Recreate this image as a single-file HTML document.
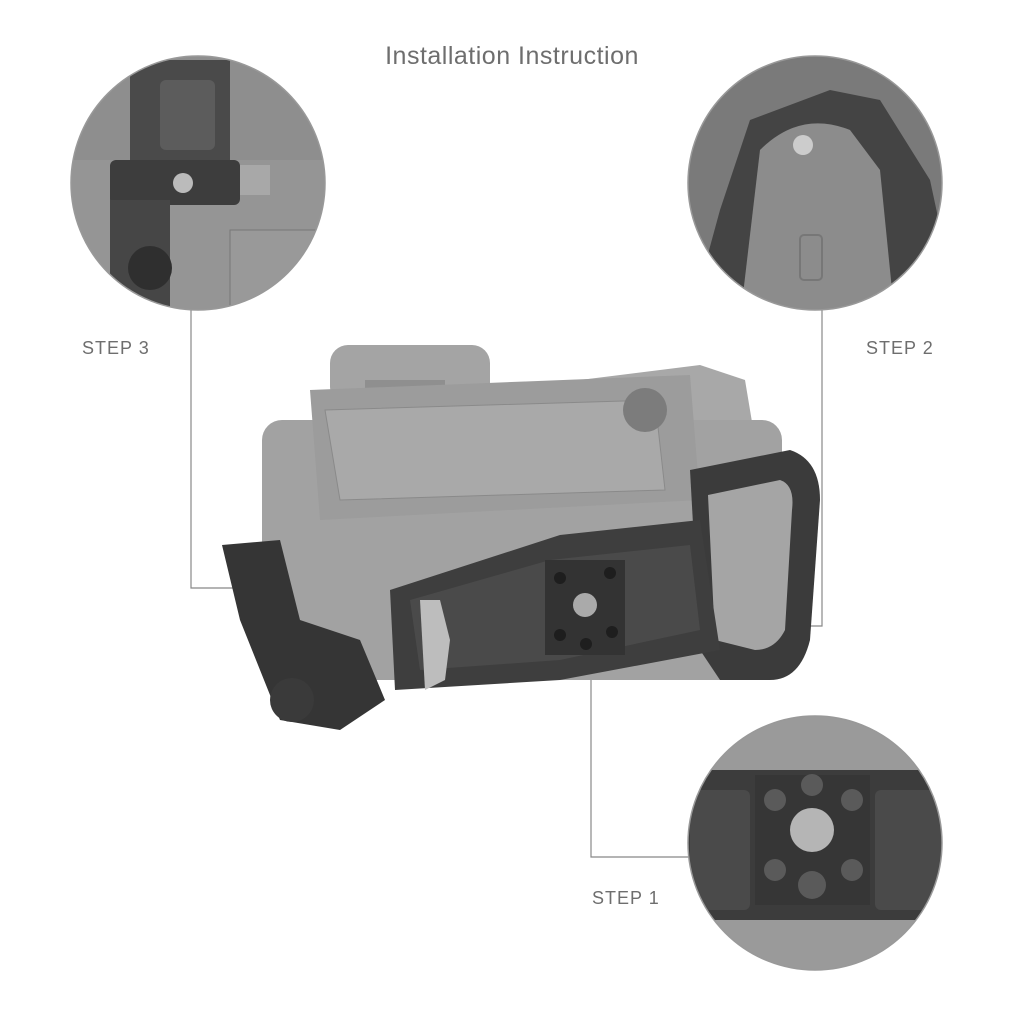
<!DOCTYPE html>
<html><head><style>
body{margin:0;width:1024px;height:1024px;background:#fff;position:relative;overflow:hidden;font-family:"Liberation Sans",sans-serif}
.t{position:absolute;color:#6e6e6e}
</style></head><body>
<div class="t" style="left:0;width:1024px;top:42px;text-align:center;font-size:25px;letter-spacing:0.5px">Installation Instruction</div>
<div class="t" style="left:82px;top:338px;font-size:18px;letter-spacing:1px">STEP 3</div>
<div class="t" style="left:866px;top:338px;font-size:18px;letter-spacing:1px">STEP 2</div>
<div class="t" style="left:592px;top:888px;font-size:18px;letter-spacing:1px">STEP 1</div>
<svg width="1024" height="1024" style="position:absolute;left:0;top:0">
<defs>
<clipPath id="c1"><circle cx="198" cy="183" r="127"/></clipPath>
<clipPath id="c2"><circle cx="815" cy="183" r="127"/></clipPath>
<clipPath id="c3"><circle cx="815" cy="843" r="127"/></clipPath>
</defs>
<g fill="none" stroke="#888" stroke-width="1.2">
<polyline points="191,310 191,588 242,588"/>
<polyline points="822,310 822,626 768,626"/>
<polyline points="591,640 591,857 690,857"/>
</g>
<!-- camera -->
<rect x="330" y="345" width="160" height="60" rx="18" fill="#a4a4a4"/>
<rect x="365" y="380" width="80" height="40" fill="#8f8f8f"/>
<path d="M540 385 L700 365 L745 380 L760 470 L300 490 Z" fill="#a8a8a8"/>
<rect x="262" y="420" width="520" height="260" rx="20" fill="#a2a2a2"/>
<path d="M310 390 L690 375 L700 500 L320 520 Z" fill="#9c9c9c"/>
<path d="M325 410 L655 400 L665 490 L340 500 Z" fill="#a9a9a9" stroke="#8a8a8a"/>
<circle cx="645" cy="410" r="22" fill="#7c7c7c"/>
<!-- cage -->
<path d="M690 470 L790 450 Q820 460 820 500 L810 640 Q800 680 770 680 L720 680 L700 650 Z" fill="#3b3b3b"/>
<path d="M708 495 L780 480 Q795 485 792 510 L785 630 Q775 650 755 650 L715 640 Z" fill="#a5a5a5"/>
<path d="M390 590 L560 535 L700 520 L720 650 L560 680 L395 690 Z" fill="#3e3e3e"/>
<path d="M410 600 L550 560 L690 545 L700 630 L560 660 L420 670 Z" fill="#4a4a4a"/>
<rect x="545" y="560" width="80" height="95" fill="#333"/>
<circle cx="585" cy="605" r="12" fill="#aaa"/>
<g fill="#1e1e1e"><circle cx="560" cy="578" r="6"/><circle cx="610" cy="573" r="6"/><circle cx="560" cy="635" r="6"/><circle cx="612" cy="632" r="6"/><circle cx="586" cy="644" r="6"/></g>
<path d="M420 600 L440 600 L450 640 L445 680 L425 690 Z" fill="#bdbdbd"/>
<path d="M222 545 L280 540 L300 620 L360 640 L385 700 L340 730 L280 720 L240 620 Z" fill="#353535"/>
<circle cx="292" cy="700" r="22" fill="#3a3a3a"/>
<!-- circle 1 -->
<g clip-path="url(#c1)">
<rect x="60" y="50" width="280" height="270" fill="#8e8e8e"/>
<rect x="60" y="160" width="280" height="160" fill="#959595"/>
<rect x="130" y="60" width="100" height="120" fill="#4a4a4a"/>
<rect x="160" y="80" width="55" height="70" rx="6" fill="#5c5c5c"/>
<rect x="110" y="160" width="130" height="45" rx="6" fill="#3d3d3d"/>
<circle cx="183" cy="183" r="10" fill="#bbb"/>
<rect x="240" y="165" width="30" height="30" fill="#a8a8a8"/>
<rect x="110" y="200" width="60" height="110" fill="#464646"/>
<circle cx="150" cy="268" r="22" fill="#2f2f2f"/>
<rect x="230" y="230" width="110" height="80" fill="#999" stroke="#777"/>
</g>
<circle cx="198" cy="183" r="127" fill="none" stroke="#999" stroke-width="1.5"/>
<!-- circle 2 -->
<g clip-path="url(#c2)">
<rect x="680" y="50" width="280" height="270" fill="#7a7a7a"/>
<path d="M690 320 L720 210 L750 120 L830 90 L880 100 L930 180 L960 320 Z" fill="#444"/>
<path d="M740 320 L760 150 Q800 110 850 130 L880 170 L895 320 Z" fill="#8c8c8c"/>
<circle cx="803" cy="145" r="10" fill="#ccc"/>
<rect x="800" y="235" width="22" height="45" rx="4" fill="none" stroke="#777" stroke-width="2"/>
</g>
<circle cx="815" cy="183" r="127" fill="none" stroke="#999" stroke-width="1.5"/>
<!-- circle 3 -->
<g clip-path="url(#c3)">
<rect x="680" y="710" width="280" height="270" fill="#9a9a9a"/>
<rect x="680" y="770" width="280" height="150" fill="#3c3c3c"/>
<rect x="690" y="790" width="60" height="120" rx="6" fill="#4a4a4a"/>
<rect x="875" y="790" width="80" height="120" rx="6" fill="#4a4a4a"/>
<rect x="755" y="775" width="115" height="130" fill="#363636"/>
<circle cx="812" cy="830" r="22" fill="#b5b5b5"/>
<g fill="#5a5a5a"><circle cx="775" cy="800" r="11"/><circle cx="852" cy="800" r="11"/><circle cx="775" cy="870" r="11"/><circle cx="852" cy="870" r="11"/><circle cx="812" cy="785" r="11"/><circle cx="812" cy="885" r="14"/></g>
</g>
<circle cx="815" cy="843" r="127" fill="none" stroke="#999" stroke-width="1.5"/>
</svg>
</body></html>
